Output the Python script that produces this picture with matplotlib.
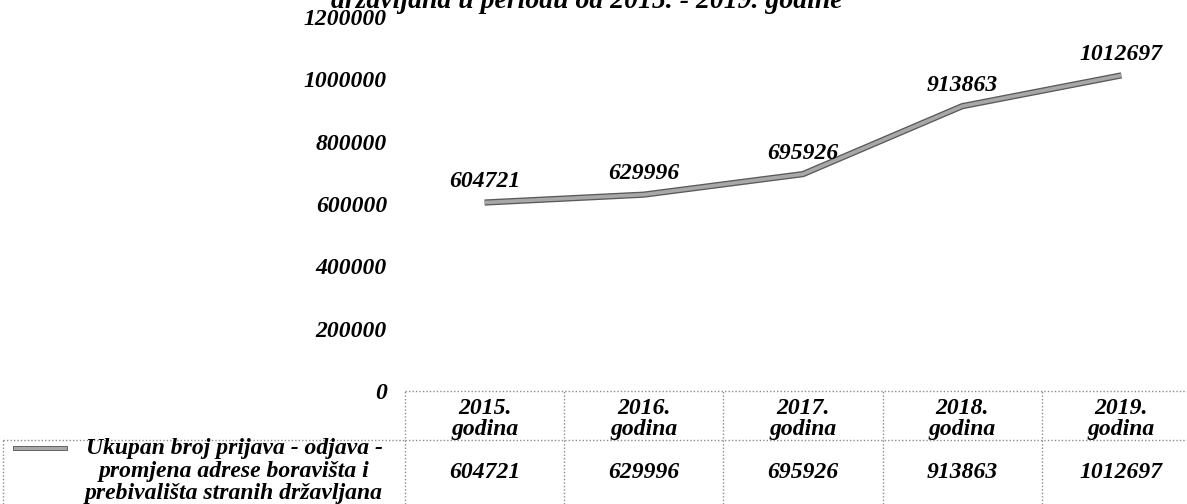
import matplotlib
matplotlib.use("Agg")
import matplotlib.pyplot as plt
import matplotlib.patheffects as pe
from matplotlib.lines import Line2D

# ---- data ----
years = ["2015.\ngodina", "2016.\ngodina", "2017.\ngodina", "2018.\ngodina", "2019.\ngodina"]
values = [604721, 629996, 695926, 913863, 1012697]
series_name = "Ukupan broj prijava - odjava -\npromjena adrese boravišta i\nprebivališta stranih državljana"
yticks = [0, 200000, 400000, 600000, 800000, 1000000, 1200000]
title = "državljana u periodu od 2015. - 2019. godine"

FONT = dict(family="Liberation Serif", weight="bold", style="italic")
FS = 17
W, H = 1187, 504

fig = plt.figure(figsize=(W / 100, H / 100), dpi=100)
fig.patch.set_facecolor("white")

ax_left, ax_w = 405 / W, 796 / W
ax_bot, ax_top = (H - 391) / H, (H - 17) / H
ax = fig.add_axes([ax_left, ax_bot, ax_w, ax_top - ax_bot])
ax.set_xlim(-0.5, 4.5)
ax.set_ylim(0, 1200000)
for s in ax.spines.values():
    s.set_visible(False)
ax.set_xticks([])
ax.set_yticks(yticks)
ax.set_yticklabels([str(v) for v in yticks], fontsize=FS, **FONT)
ax.tick_params(axis="y", length=0, pad=13)

xs = list(range(len(values)))
line_fx = [pe.Stroke(linewidth=4.5, foreground="#5a5a5a"), pe.Normal()]
ax.plot(xs, values, color="#a8a8a8", lw=2.6, solid_capstyle="butt",
        path_effects=line_fx, zorder=3)
for x, v in zip(xs, values):
    ax.annotate(str(v), (x, v), xytext=(0, 15), textcoords="offset points",
                ha="center", va="center", fontsize=FS, **FONT)

# ---- data table ----
axt = fig.add_axes([ax_left, 0, ax_w, (H - 391) / H])
axt.set_xlim(-0.5, 4.5)
axt.set_ylim(0, H - 391)
axt.axis("off")
dot = dict(color="#8c8c8c", lw=1.0, ls=(0, (1, 1.5)), clip_on=False)
row_y = H - 440
top_y = H - 391
axt.plot([-0.5, 4.6], [top_y, top_y], **dot)
axt.plot([-0.5, 4.6], [row_y, row_y], **dot)
for i in range(len(years)):
    axt.plot([i - 0.5, i - 0.5], [0, top_y], **dot)
for i, (lab, v) in enumerate(zip(years, values)):
    axt.text(i, H - 419, lab, ha="center", va="center", fontsize=FS,
             linespacing=0.95, **FONT)
    axt.text(i, H - 473, str(v), ha="center", va="center", fontsize=FS, **FONT)

# label cell (figure coordinates)
fig.add_artist(Line2D([3 / W, ax_left], [row_y / H, row_y / H],
                      transform=fig.transFigure, **dot))
fig.add_artist(Line2D([3 / W, 3 / W], [0, row_y / H],
                      transform=fig.transFigure, **dot))
fig.add_artist(Line2D([15 / W, 65 / W], [(H - 448) / H, (H - 448) / H],
                      transform=fig.transFigure, color="#a8a8a8", lw=2.2,
                      path_effects=[pe.Stroke(linewidth=3.5, foreground="#5a5a5a"), pe.Normal()]))
fig.text(234 / W, (H - 471) / H, series_name, ha="center", va="center",
         fontsize=FS, linespacing=1.08, **FONT)

# cut-off title
fig.text(587 / W, (H - 8) / H, title, ha="center", va="baseline",
         fontsize=20, **FONT)

fig.savefig("out.png", dpi=100, facecolor="white")
